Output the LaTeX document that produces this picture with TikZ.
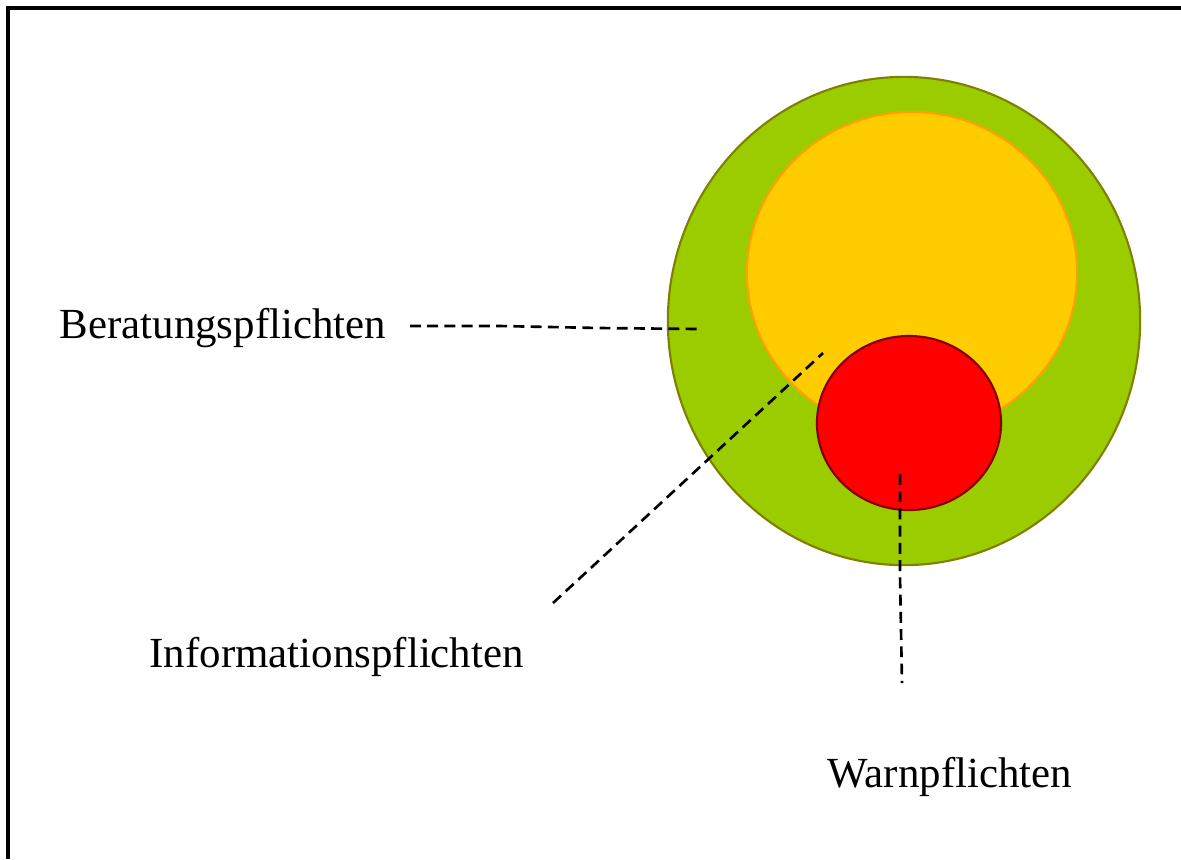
\documentclass[tikz,border=0pt]{standalone}
\usepackage{fontspec}
\setmainfont{Liberation Serif}
\usepackage{tikz}

\definecolor{gruen}{RGB}{154,204,0}
\definecolor{oliv}{RGB}{128,128,0}
\definecolor{gelb}{RGB}{255,204,0}
\definecolor{orange}{RGB}{255,160,0}
\definecolor{rot}{RGB}{255,0,0}
\definecolor{dunkelrot}{RGB}{128,0,0}

\tikzset{
    label/.style={anchor=base west, inner sep=0pt, font=\fontsize{12.2}{14}\selectfont},
    zeiger/.style={black, line width=0.75pt, dash pattern=on 3.1pt off 1.8pt}
}

\begin{document}
\begin{tikzpicture}[x=0.01cm, y=-0.01cm]
    \useasboundingbox (0,0) rectangle (1181,859);

    % Frame (only left and top edges visible)
    \draw[line width=1.1pt] (8,859) -- (8,8) -- (1181,8);

    % Circles
    \filldraw[fill=gruen, draw=oliv, line width=0.6pt] (904,321) ellipse [x radius=2.36cm, y radius=2.44cm];
    \filldraw[fill=gelb, draw=orange, line width=0.6pt] (912,273) ellipse [x radius=1.65cm, y radius=1.61cm];
    \filldraw[fill=rot, draw=dunkelrot, line width=0.6pt] (909,423) ellipse [x radius=0.92cm, y radius=0.87cm];

    % Labels
    \node[label] (beratung) at (59,338) {Beratungspflichten};
    \node[label] (information) at (149,667) {Informationspflichten};
    \node[label] (warn) at (827,787) {Warnpflichten};

    % Pointers
    \coordinate (beratungA) at (410,326);
    \coordinate (beratungB) at (698,329);
    \coordinate (informationA) at (553,603);
    \coordinate (informationB) at (823,353);
    \coordinate (warnA) at (900,474);
    \coordinate (warnB) at (902,683);

    \draw[zeiger] (beratungA) -- (500,326) -- (600,328) -- (beratungB);
    \draw[zeiger] (informationA) -- (informationB);
    \draw[zeiger] (warnA) -- (900,575) -- (warnB);
\end{tikzpicture}
\end{document}
